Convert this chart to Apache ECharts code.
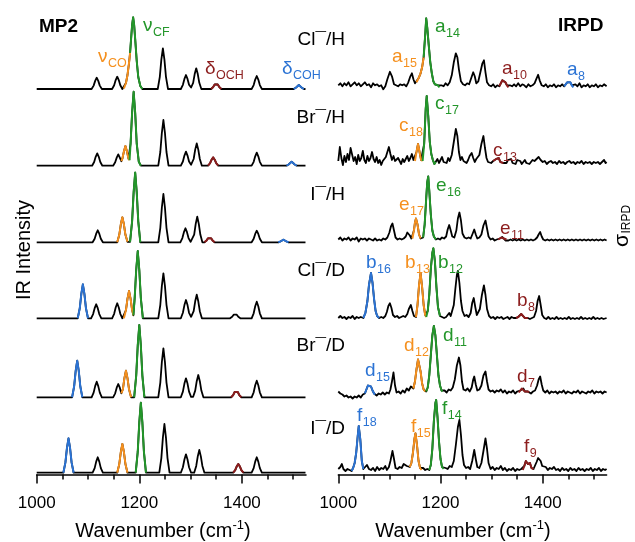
<!DOCTYPE html>
<html><head><meta charset="utf-8">
<script src="https://cdn.jsdelivr.net/npm/echarts@6/dist/echarts.min.js"></script>
<style>html,body{margin:0;padding:0;background:#fff}#c{width:635px;height:542px}</style>
</head><body><div id="c"></div>
<script>
// ---------- axis ----------
const xMin = 1000, xMax = 1525;
const majorTicks = [1000, 1200, 1400];
const minorTicks = [1050, 1100, 1150, 1250, 1300, 1350, 1450, 1500];
const rowLabels = ['Cl\u00AF/H', 'Br\u00AF/H', 'I\u00AF/H', 'Cl\u00AF/D', 'Br\u00AF/D', 'I\u00AF/D'];

// ---------- MP2 spectra [wavenumber, intensity] ----------
const mp2_ClH = [[1000,0],[1107,0],[1111,3.4],[1114,8.1],[1117,11.3],[1120,8.1],[1123,3.4],[1127,0],
[1147,0],[1151,3.7],[1154,8.9],[1157,12.3],[1160,8.9],[1163,3.7],[1167,0],
[1170,0.5],[1174,6],[1177,14],[1180,26],[1182,36],[1184,50],[1186,64],[1188,71.7],[1190,64],[1192,50],[1195,28],[1198,12],[1202,3],[1206,0],
[1236,0],[1240,12.2],[1243,29.3],[1246,40.7],[1249,29.3],[1252,12.2],[1256,0],
[1281,0],[1285,4.2],[1288,10.1],[1291,14],[1294,10.1],[1297,4.2],[1301,1.5],[1305,6.2],[1308,14.9],[1311,20.7],[1314,14.9],[1317,6.2],[1321,0],
[1340,0],[1344,1.9],[1347,4.5],[1350,6.3],[1353,4.5],[1356,1.9],[1360,0],
[1419,0],[1423,3.9],[1426,9.4],[1429,13],[1432,9.4],[1435,3.9],[1439,0],
[1501,0],[1505,1.2],[1508,2.9],[1511,4],[1514,2.9],[1517,1.2],[1521,0],[1524,0]];
const mp2_BrH = [[1000,0],[1108,0],[1112,3.7],[1115,8.9],[1118,12.3],[1121,8.9],[1124,3.7],[1128,0],
[1149,0],[1153,3.4],[1156,8.1],[1159,11.3],[1162,8.1],[1165,4.5],[1167,7],[1170,14.2],[1173,19.7],[1176,14.2],[1179,7],[1181,5.5],[1183,22],[1186,53],[1189,74],[1192,53],[1195,22],[1199,4],[1203,0],
[1237,0],[1241,13.7],[1244,32.9],[1247,45.7],[1250,32.9],[1253,13.7],[1257,0],
[1281,0],[1285,4.2],[1288,10.1],[1291,14],[1294,10.1],[1297,4.2],[1301,1],[1306,6.7],[1309,16.1],[1312,22.3],[1315,16.1],[1318,6.7],[1322,0],
[1334,0],[1338,2.5],[1341,6],[1344,8.3],[1347,6],[1350,2.5],[1354,0],
[1419,0],[1423,3.9],[1426,9.4],[1429,13],[1432,9.4],[1435,3.9],[1439,0],
[1487,0],[1491,1.2],[1494,2.9],[1497,4],[1500,2.9],[1503,1.2],[1507,0],[1524,0]];
const mp2_IH = [[1000,0],[1109,0],[1113,3.6],[1116,8.6],[1119,12],[1122,8.6],[1125,3.6],[1129,0],
[1157,0],[1161,7.5],[1164,18],[1167,25],[1170,18],[1173,7.5],[1177,0.5],
[1182,0.5],[1186,20.9],[1189,50.2],[1192,69.7],[1195,50.2],[1198,20.9],[1202,0],
[1237,0],[1241,14.5],[1244,34.8],[1247,48.3],[1250,34.8],[1253,14.5],[1257,0],
[1280,0],[1284,4.2],[1287,10.1],[1290,14],[1293,10.1],[1296,4.2],[1300,0.5],[1303,0.5],[1307,7.7],[1310,18.4],[1313,25.6],[1316,18.4],[1319,7.7],[1323,0],
[1327,0],[1331,1.7],[1334,4],[1337,5.6],[1340,4],[1343,1.7],[1347,0],
[1419,0],[1423,3.5],[1426,8.4],[1429,11.6],[1432,8.4],[1435,3.5],[1439,0],
[1471,0],[1475,0.8],[1478,1.9],[1481,2.6],[1484,1.9],[1487,0.8],[1491,0],[1524,0]];
const mp2_ClD = [[1000,0],[1080,0],[1084,10.2],[1087,24.5],[1090,34],[1093,24.5],[1096,10.2],[1100,0],
[1106,0],[1110,4.2],[1113,10.1],[1116,14],[1119,10.1],[1122,4.2],[1126,0],
[1147,0],[1151,4.5],[1154,10.8],[1157,15],[1160,10.8],[1163,4.5],[1167,0],
[1170,0],[1174,8.2],[1177,19.7],[1180,27.3],[1183,19.7],[1186,8.2],[1188.5,3],[1191,20.2],[1194,48.5],[1197,67.3],[1200,48.5],[1203,20.2],[1207,0],
[1237,0],[1241,13.5],[1244,32.4],[1247,45],[1250,32.4],[1253,13.5],[1257,0],
[1281,0],[1285,5.5],[1288,13.2],[1291,18.3],[1294,13.2],[1297,5.5],[1301,1.5],[1306,7.1],[1309,17],[1312,23.6],[1315,17],[1318,7.1],[1322,0],
[1377,0],[1381,1.5],[1384,3.6],[1387,5],[1390,3.6],[1393,1.5],[1397,0],
[1419,0],[1423,5],[1426,12],[1429,16.6],[1432,12],[1435,5],[1439,0],[1524,0]];
const mp2_BrD = [[1000,0],[1069,0],[1073,11],[1076,26.4],[1079,36.6],[1082,26.4],[1085,11],[1089,0],
[1107,0],[1111,4.7],[1114,11.2],[1117,15.6],[1120,11.2],[1123,4.7],[1127,0],
[1149,0],[1153,4],[1156,9.6],[1159,13.3],[1162,9.6],[1165,4],[1168,8],[1171,19.2],[1174,26.6],[1177,19.2],[1180,8],[1184,0],
[1190,0],[1194,21.7],[1197,52.1],[1200,72.3],[1203,52.1],[1206,21.7],[1210,0],
[1237,0],[1241,14.7],[1244,35.3],[1247,49],[1250,35.3],[1253,14.7],[1257,0],
[1281,0],[1285,5.7],[1288,13.7],[1291,19],[1294,13.7],[1297,5.7],[1301,0.5],[1305,0.5],[1309,6.7],[1312,16.1],[1315,22.3],[1318,16.1],[1321,6.7],[1325,0],
[1379,0],[1383,2.2],[1386,5.3],[1389,7.3],[1392,5.3],[1395,2.2],[1399,0],
[1419,0],[1423,5],[1426,12],[1429,16.6],[1432,12],[1435,5],[1439,0],[1524,0]];
const mp2_ID = [[1000,0],[1052,0],[1056,10.3],[1059,24.8],[1062,34.4],[1065,24.8],[1068,10.3],[1072,0],
[1109,0],[1113,4.6],[1116,11.1],[1119,15.4],[1122,11.1],[1125,4.6],[1129,0],
[1157,0],[1161,8.6],[1164,20.7],[1167,28.7],[1170,20.7],[1173,8.6],[1177,0],
[1193,0],[1197,21],[1200,50.4],[1203,70],[1206,50.4],[1209,21],[1213,0],
[1239,0],[1243,14.6],[1246,35.1],[1249,48.7],[1252,35.1],[1255,14.6],[1259,0],
[1281,0],[1285,5.5],[1288,13.2],[1291,18.4],[1294,13.2],[1297,5.5],[1301,0],[1307,0],[1311,6.8],[1314,16.3],[1317,22.7],[1320,16.3],[1323,6.8],[1327,0],
[1383,0],[1387,2.6],[1390,6.3],[1393,8.7],[1396,6.3],[1399,2.6],[1403,0],
[1419,0],[1423,4.6],[1426,11.1],[1429,15.4],[1432,11.1],[1435,4.6],[1439,0],[1524,0]];

// ---------- IRPD spectra [wavenumber, signal] ----------
const irpd_ClH = [[1000,2],[1004,4],[1008,1],[1012,4],[1016,2],[1020,5],[1024,1],[1028,3],[1032,5],[1036,2],[1040,4],[1044,1],[1048,3],[1052,5],[1056,2],[1060,3],[1064,0],[1068,4],[1072,2],[1076,3],[1080,1],[1084,2],[1088,-2],[1092,1],[1096,8],[1101,15.5],[1105,11],[1109,3],[1113,2],[1117,1],[1121,3],[1125,2],[1129,3],[1133,1],[1137,5],[1141,11],[1144,14],[1147,8],[1150,4],
[1153,5],[1157,9],[1161,14],[1164,20],[1167,30],[1170,52],[1172,69],[1174,60],[1177,42],[1180,25],[1183,14],[1186,6],[1189,3],[1192,1],[1195,2],[1198,0],
[1202,2],[1206,1],[1210,4],[1214,2],[1218,5],[1222,12],[1226,25],[1230,34],[1233,30],[1236,18],[1240,6],[1244,3],[1248,2],[1252,4],[1256,3],[1260,9],[1264,15],[1267,11],[1270,4],[1274,6],[1278,15],[1282,24],[1285,27],[1288,15],[1291,5],[1295,2],[1299,1],[1303,3],[1307,0],[1311,2],
[1315,1],[1318,4],[1321,7],[1324,8],[1327,5],[1330,2],[1333,0],
[1336,2],[1340,1],[1344,3],[1348,1],[1352,4],[1356,1],[1360,3],[1364,2],[1368,0],[1372,3],[1376,1],[1380,2],[1384,4],[1388,9],[1391,12.5],[1394,7],[1398,2],[1402,1],[1406,3],[1410,0],[1414,2],[1418,1],[1422,3],[1426,0],[1430,2],[1434,1],[1438,3],
[1442,1],[1445,3],[1448,5],[1451,6],[1454,5],[1457,2],[1460,0],
[1464,3],[1468,1],[1472,4],[1476,0],[1480,2],[1484,1],[1488,3],[1492,0],[1496,2],[1500,1],[1504,3],[1508,0],[1512,2],[1516,1],[1520,3],[1525,1]];
const irpd_BrH = [[1000,3],[1003,17],[1006,6],[1009,-1],[1012,8],[1015,2],[1018,10],[1021,4],[1024,16],[1027,14],[1030,3],[1033,7],[1036,0],[1039,9],[1042,3],[1045,6],[1048,13],[1051,4],[1054,1],[1057,8],[1060,3],[1063,6],[1066,12],[1069,5],[1072,2],[1075,7],[1078,1],[1081,4],[1084,-1],[1087,3],[1090,1],[1093,7],[1096,12],[1099,17],[1102,10],[1105,4],[1108,8],[1111,3],[1114,1],[1117,6],[1120,3],[1123,0],[1126,5],[1129,2],[1132,4],[1135,8],[1138,3],[1141,6],[1144,10],[1147,4],
[1150,3],[1153,12],[1156,20],[1159,12],[1162,4],[1165,3],[1168,20],[1171,55],[1173,68],[1176,48],[1179,22],[1182,10],[1185,4],[1188,0],[1191,2],
[1194,5],[1197,1],[1200,3],[1203,7],[1206,2],[1209,4],[1212,1],[1215,6],[1218,3],[1222,9],[1226,22],[1230,35],[1233,28],[1236,12],[1239,4],[1242,7],[1245,3],[1248,5],[1251,1],[1254,4],[1257,8],[1261,11],[1264,6],[1267,2],[1270,5],[1273,3],[1276,9],[1280,20],[1284,28],[1287,16],[1290,6],[1293,2],[1296,4],[1299,1],
[1303,3],[1306,2],[1309,5],[1312,3],[1314,6],[1317,2],[1320,4],[1323,1],
[1326,3],[1329,1],[1332,4],[1335,2],[1338,5],[1341,1],[1344,3],[1347,0],[1350,4],[1353,2],[1356,3],[1359,0],[1362,2],[1365,4],[1368,1],[1371,3],[1374,0],[1377,2],[1380,4],[1384,3],[1388,5],[1392,7],[1396,4],[1400,2],[1404,3],[1408,0],[1412,2],[1416,3],[1420,1],[1424,2],[1428,0],[1432,3],[1436,1],[1440,2],[1444,0],[1448,2],[1452,3],[1456,1],[1460,2],[1464,0],[1468,2],[1472,1],[1476,3],[1480,0],[1484,2],[1488,1],[1492,2],[1496,0],[1500,2],[1504,1],[1508,2],[1512,0],[1516,2],[1520,4],[1523,1],[1525,2]];
const irpd_IH = [[1000,1],[1004,3],[1008,0],[1012,2],[1016,1],[1020,3],[1024,0],[1028,2],[1032,1],[1036,3],[1040,-1],[1044,2],[1048,1],[1052,2],[1056,0],[1060,2],[1064,1],[1068,0],[1072,2],[1076,0],[1080,1],[1084,0],[1088,2],[1092,1],[1096,3],[1100,8],[1103,14],[1106,17],[1109,10],[1112,3],[1116,1],[1120,2],[1124,1],[1128,2],[1132,4],[1135,8],[1137,9.5],[1140,5],[1143,2],
[1145,2],[1148,10],[1150,18],[1152,22],[1155,16],[1158,6],[1161,2],
[1163,2],[1166,3],[1169,16],[1172,42],[1174,58],[1176,64],[1178,50],[1181,26],[1184,10],[1187,4],[1191,1],
[1195,2],[1199,1],[1203,3],[1207,2],[1211,4],[1214,11],[1217,15.5],[1220,10],[1223,4],[1227,3],[1231,10],[1234,22],[1237,28],[1240,20],[1243,7],[1247,3],[1251,2],[1255,3],[1259,2],[1263,7],[1266,11],[1269,6],[1272,2],[1276,3],[1280,6],[1284,15],[1288,20],[1291,12],[1294,4],[1298,1],[1302,2],[1306,0],[1310,1],
[1313,1],[1316,2],[1319,3],[1321,3.5],[1324,2],[1327,0],[1329,1],
[1333,0],[1337,1],[1341,0],[1345,1],[1349,0],[1353,1],[1357,0],[1361,1],[1365,0],[1369,1],[1373,0],[1377,1],[1381,0],[1385,1],[1389,3],[1392,6],[1395,8.5],[1398,4],[1401,1],[1405,0],[1409,1],[1413,0],[1417,1],[1421,0],[1425,1],[1429,0],[1433,1],[1437,0],[1441,1],[1445,0],[1449,1],[1453,0],[1457,1],[1461,0],[1465,1],[1469,0],[1473,1],[1477,0],[1481,1],[1485,0],[1489,1],[1493,0],[1497,1],[1501,0],[1505,1],[1509,0],[1513,1],[1517,0],[1521,1],[1525,0]];
const irpd_ClD = [[1000,1],[1004,3],[1008,1],[1012,2],[1016,0],[1020,2],[1024,1],[1028,3],[1032,0],[1036,2],[1040,1],[1044,2],
[1049,1],[1053,6],[1057,18],[1060,34],[1064,46],[1067,36],[1070,20],[1073,8],[1076,3],[1080,1],
[1084,2],[1088,1],[1092,3],[1095,7],[1098,13],[1101,15.7],[1104,11],[1107,4],[1111,2],[1115,3],[1119,1],[1123,2],[1127,3],[1131,2],[1135,5],[1138,10],[1140,9],[1142,14],[1145,8],[1148,3],
[1152,2],[1155,14],[1158,34],[1161,46],[1164,32],[1167,14],[1170,4],[1172,2],[1175,8],[1178,24],[1181,50],[1184,66],[1186,70.7],[1189,58],[1192,32],[1195,12],[1199,3],
[1203,2],[1207,1],[1211,2],[1214,4],[1217,6],[1220,3],[1223,5],[1226,14],[1229,30],[1232,44],[1234,48],[1237,36],[1240,18],[1243,8],[1247,3],[1251,4],[1255,2],[1259,6],[1262,16],[1265,21],[1268,12],[1271,4],[1274,6],[1277,10],[1281,24],[1285,33.7],[1288,24],[1291,10],[1295,3],[1299,1],[1303,2],[1307,0],[1311,2],[1315,1],[1319,2],[1323,0],[1327,1],[1331,2],[1335,0],[1339,2],[1343,1],
[1348,1],[1352,2],[1355,4],[1358,5],[1361,4],[1365,1],[1368,0],[1371,1],
[1375,0],[1379,1],[1383,2],[1387,8],[1390,18],[1393,23],[1396,14],[1399,4],[1403,1],[1407,0],[1411,2],[1415,0],[1419,1],[1423,0],[1427,2],[1431,0],[1435,1],[1439,0],[1443,1],[1447,0],[1451,2],[1455,0],[1459,1],[1463,0],[1467,1],[1471,0],[1475,2],[1479,0],[1483,1],[1487,0],[1491,1],[1495,0],[1499,2],[1503,0],[1507,1],[1511,0],[1515,1],[1519,0],[1525,1]];
const irpd_BrD = [[1000,2],[1004,0],[1008,-1],[1012,-3],[1016,-2],[1020,-4],[1024,-3],[1028,-5],[1032,-3],[1036,-4],[1040,-2],[1044,-4],[1048,-1],
[1052,0],[1055,4],[1058,8],[1061,10],[1064,7],[1067,3],[1070,0],[1072,-1],
[1075,-2],[1079,0],[1083,-1],[1087,1],[1091,-1],[1095,1],[1099,0],[1102,4],[1105,12],[1108,21],[1111,8],[1114,1],[1118,2],[1122,0],[1126,3],[1130,1],[1134,5],[1138,3],[1142,7],[1145,6],
[1147,5],[1150,12],[1153,24],[1156,34],[1158,35],[1161,22],[1164,10],[1167,4],[1170,2],
[1172,2],[1175,6],[1178,18],[1181,38],[1184,58],[1187,67.5],[1190,58],[1193,38],[1196,18],[1199,8],[1202,3],[1204,2],
[1208,3],[1212,1],[1216,4],[1220,3],[1224,6],[1228,14],[1232,28],[1236,36],[1239,28],[1242,12],[1245,4],[1249,3],[1253,5],[1257,2],[1261,6],[1264,14],[1266,17],[1269,9],[1272,3],[1276,4],[1280,8],[1284,18],[1288,22],[1291,12],[1294,4],[1298,2],[1302,3],[1306,1],[1310,3],[1314,2],[1318,4],[1322,1],[1326,3],[1330,0],[1334,2],[1338,1],[1342,3],[1346,0],[1350,2],
[1353,1],[1356,3],[1359,5],[1362,5],[1365,2],[1368,0],[1371,2],[1373,1],
[1377,0],[1381,2],[1385,3],[1389,8],[1392,14],[1395,17],[1398,9],[1401,3],[1405,1],[1409,3],[1413,0],[1417,2],[1421,1],[1425,2],[1429,0],[1433,2],[1437,1],[1441,3],[1445,0],[1449,2],[1453,1],[1457,0],[1461,2],[1465,1],[1469,3],[1473,0],[1477,2],[1481,1],[1485,0],[1489,2],[1493,1],[1497,3],[1501,0],[1505,2],[1509,1],[1513,2],[1517,0],[1521,2],[1525,1]];
const irpd_ID = [[1000,2],[1004,4],[1007,7],[1010,2],[1014,0],[1018,2],[1022,1],
[1026,0],[1029,3],[1032,8],[1035,18],[1038,35],[1040,45],[1043,32],[1046,10],[1049,2],
[1052,3],[1056,6],[1060,2],[1064,1],[1068,3],[1072,0],[1076,4],[1080,1],[1084,3],[1088,2],[1092,5],[1095,1],[1099,4],[1102,10],[1106,20],[1109,12],[1112,3],[1116,2],[1120,4],[1124,3],[1128,7],[1131,8],[1134,5],[1137,3],
[1140,4],[1143,8],[1146,18],[1149,32],[1151,37.7],[1154,26],[1157,10],[1160,3],[1163,1],
[1166,3],[1170,1],[1174,2],
[1178,1],[1181,6],[1184,22],[1187,50],[1190,68],[1191.5,71],[1194,55],[1197,30],[1200,12],[1203,4],[1206,2],
[1210,3],[1214,2],[1218,5],[1222,4],[1226,10],[1230,26],[1234,44],[1237,51],[1240,36],[1243,16],[1246,6],[1250,3],[1254,4],[1258,2],[1262,10],[1266,21],[1269,12],[1272,4],[1276,3],[1280,8],[1284,20],[1288,32.7],[1291,22],[1294,8],[1298,2],[1302,4],[1306,1],[1310,3],[1314,2],[1318,5],[1322,1],[1326,3],[1330,0],[1334,2],[1338,1],[1342,3],[1346,0],[1350,2],[1354,1],[1358,2],
[1361,1],[1364,5],[1367,10],[1369,11],[1371,7],[1373,9],[1375,8],[1378,3],[1382,2],
[1385,4],[1388,9],[1391,13],[1393,14.3],[1396,10],[1399,5],[1402,3],[1406,4],[1410,1],[1414,3],[1418,2],[1422,4],[1426,1],[1430,2],[1434,0],[1438,3],[1442,1],[1446,2],[1450,0],[1454,3],[1458,1],[1462,2],[1466,0],[1470,3],[1474,1],[1478,2],[1482,0],[1486,2],[1490,1],[1494,3],[1498,0],[1502,2],[1506,1],[1510,3],[1514,0],[1518,2],[1522,1],[1525,2]];

// ---------- coloured (assigned) band ranges [from, to, colour key] ----------
const hl_mp2_ClH = [[1170,1182,'o'],[1182,1206,'g'],[1340,1360,'r'],[1501,1521,'b']];
const hl_mp2_BrH = [[1165,1181,'o'],[1181,1203,'g'],[1334,1354,'r'],[1487,1507,'b']];
const hl_mp2_IH  = [[1157,1177,'o'],[1182,1202,'g'],[1327,1347,'r'],[1471,1491,'b']];
const hl_mp2_ClD = [[1080,1100,'b'],[1170,1188.5,'o'],[1188.5,1207,'g']];
const hl_mp2_BrD = [[1069,1089,'b'],[1165,1184,'o'],[1190,1210,'g'],[1379,1399,'r']];
const hl_mp2_ID  = [[1052,1072,'b'],[1157,1177,'o'],[1193,1213,'g'],[1383,1403,'r']];
const hl_irpd_ClH = [[1153,1167,'o'],[1167,1198,'g'],[1315,1333,'r'],[1442,1460,'b']];
const hl_irpd_BrH = [[1150,1165,'o'],[1165,1191,'g'],[1303,1323,'r']];
const hl_irpd_IH  = [[1145,1161,'o'],[1166,1191,'g'],[1313,1329,'r']];
const hl_irpd_ClD = [[1049,1080,'b'],[1152,1172,'o'],[1172,1199,'g'],[1348,1371,'r']];
const hl_irpd_BrD = [[1052,1072,'b'],[1147,1170,'o'],[1172,1204,'g'],[1353,1373,'r']];
const hl_irpd_ID  = [[1026,1049,'b'],[1140,1163,'o'],[1178,1206,'g'],[1361,1382,'r']];

// ---------- band labels ----------
const mp2Labels  = [['\u03BD','CF','g'],['\u03BD','CO','o'],['\u03B4','OCH','r'],['\u03B4','COH','b']];
const irpdLabels = [['a','14','g'],['a','15','o'],['a','10','r'],['a','8','b'],
  ['c','17','g'],['c','18','o'],['c','13','r'],
  ['e','16','g'],['e','17','o'],['e','11','r'],
  ['b','16','b'],['b','13','o'],['b','12','g'],['b','8','r'],
  ['d','11','g'],['d','12','o'],['d','15','b'],['d','7','r'],
  ['f','18','b'],['f','15','o'],['f','14','g'],['f','9','r']];

// ================= layout / rendering =================
const COL = {k:'#000000', g:'#23962a', o:'#f5901e', r:'#8c1d1d', b:'#2b73d4'};
const FONT = '"Liberation Sans", Arial, Helvetica, sans-serif';
const mp2Rows  = [[mp2_ClH,hl_mp2_ClH],[mp2_BrH,hl_mp2_BrH],[mp2_IH,hl_mp2_IH],[mp2_ClD,hl_mp2_ClD],[mp2_BrD,hl_mp2_BrD],[mp2_ID,hl_mp2_ID]];
const irpdRows = [[irpd_ClH,hl_irpd_ClH],[irpd_BrH,hl_irpd_BrH],[irpd_IH,hl_irpd_IH],[irpd_ClD,hl_irpd_ClD],[irpd_BrD,hl_irpd_BrD],[irpd_ID,hl_irpd_ID]];
const mp2Off  = [385.5, 308.8, 232.2, 156.2, 77.2, 1.8];
const irpdOff = [387.2, 310.5, 234.0, 155.5, 81.0, 3.5];

const series = [];
function addPanel(rows, offs, p) {
  rows.forEach(([pts, hl], i) => {
    const off = offs[i];
    const base = {type:'line', xAxisIndex:p*2, yAxisIndex:p, showSymbol:false, symbol:'none',
      clip:false, silent:true, animation:false};
    series.push(Object.assign({}, base, {data: pts.map(d => [d[0], d[1] + off]),
      lineStyle:{color:COL.k, width:1.8, join:'round'}, z:2}));
    hl.forEach(([a, b, c]) => {
      series.push(Object.assign({}, base, {
        data: pts.filter(d => d[0] >= a && d[0] <= b).map(d => [d[0], d[1] + off]),
        lineStyle:{color:COL[c], width:2, join:'round'}, z:3}));
    });
  });
}
addPanel(mp2Rows, mp2Off, 0);
addPanel(irpdRows, irpdOff, 1);

const cv = document.createElement('canvas').getContext('2d');
function tw(t, size, weight) { cv.font = (weight || 'normal') + ' ' + size + 'px ' + FONT; return cv.measureText(t).width; }
function T(x, baseline, t, size, color, weight, align) {
  return {type:'text', x:x, y:baseline - 0.3465*size, silent:true, z:100,
    style:{text:t, fill:color, font:(weight||'normal') + ' ' + size + 'px ' + FONT, align:align||'left', verticalAlign:'middle'}};
}
const gfx = [];
function labelSub(lbl, x, bl) {
  const [m, s, c] = lbl;
  gfx.push(T(x, bl, m, 19, COL[c]));
  gfx.push(T(x + tw(m, 19) + 0.5, bl + 5, s, 12.5, COL[c]));
}
const mp2Pos = [[143,32],[98,63],[205,75],[282,75]];
mp2Labels.forEach((l, i) => labelSub(l, mp2Pos[i][0], mp2Pos[i][1]));
const irpdPos = [[435,33],[392,63],[502,75],[567,76],
  [435,110],[399,132],[493,157],
  [436,192],[399,211],[500,235],
  [366,269],[405,269],[438,269],[517,307],
  [443,342],[404,352],[365,377],[517,383],
  [357,422],[411,433],[442,415],[524,453]];
irpdLabels.forEach((l, i) => labelSub(l, irpdPos[i][0], irpdPos[i][1]));
const rowY = [40, 118, 195, 271, 346, 429];
rowLabels.forEach((t, i) => gfx.push({type:'text', x:345, y:rowY[i], silent:true, z:100,
  style:{text:t, fill:'#000', font:'19px ' + FONT, align:'right', verticalAlign:'middle'}}));
gfx.push({type:'text', x:39, y:27, style:{text:'MP2', fill:'#000', font:'bold 19px ' + FONT, verticalAlign:'middle'}});
gfx.push({type:'text', x:558, y:26, style:{text:'IRPD', fill:'#000', font:'bold 19px ' + FONT, verticalAlign:'middle'}});
gfx.push({type:'text', x:24, y:250, rotation:Math.PI/2, style:{text:'IR Intensity', fill:'#000', font:'20px ' + FONT, align:'center', verticalAlign:'middle'}});
const sw = tw('\u03C3', 21);
gfx.push({type:'group', x:622.5, y:247, rotation:Math.PI/2, children:[
  {type:'text', x:0, y:0, style:{text:'\u03C3', fill:'#000', font:'21px ' + FONT, align:'left', verticalAlign:'middle'}},
  {type:'text', x:sw + 0.5, y:4, style:{text:'IRPD', fill:'#000', font:'12px ' + FONT, align:'left', verticalAlign:'middle'}}
]});
function xTitle(cx, bl) {
  const p1 = 'Wavenumber (cm', p2 = '-1', p3 = ')';
  const w1 = tw(p1, 20), w2 = tw(p2, 13), w3 = tw(p3, 20);
  let x = cx - (w1 + w2 + w3) / 2;
  gfx.push(T(x, bl, p1, 20, '#000')); x += w1;
  gfx.push(T(x, bl - 8, p2, 13, '#000')); x += w2;
  gfx.push(T(x, bl, p3, 20, '#000'));
}
xTitle(163, 538);
xTitle(463, 538);

function xAxes(g) {
  return [
    {gridIndex:g, type:'value', min:xMin, max:xMax, position:'bottom',
      axisLine:{show:true, onZero:false, lineStyle:{color:'#000', width:1.5}},
      axisTick:{show:true, length:9, customValues:majorTicks, lineStyle:{color:'#000', width:1.5}},
      axisLabel:{show:true, customValues:majorTicks, fontSize:17, color:'#000', margin:20, fontFamily:FONT,
        formatter: v => String(v)},
      splitLine:{show:false}},
    {gridIndex:g, type:'value', min:xMin, max:xMax, position:'bottom',
      axisLine:{show:false, onZero:false},
      axisTick:{show:true, length:5, customValues:minorTicks, lineStyle:{color:'#000', width:1.5}},
      axisLabel:{show:false}, splitLine:{show:false}}
  ];
}
const option = {
  animation:false,
  backgroundColor:'#fff',
  grid:[{left:36.7, width:269.3, top:4.5, height:470},{left:338.3, width:268.3, top:4.5, height:470}],
  xAxis: xAxes(0).concat(xAxes(1)),
  yAxis:[{gridIndex:0, type:'value', min:0, max:470, show:false},{gridIndex:1, type:'value', min:0, max:470, show:false}],
  series: series,
  graphic:{elements: gfx}
};
const chart = echarts.init(document.getElementById('c'), null, {renderer:'canvas'});
chart.setOption(option);
</script></body></html>
